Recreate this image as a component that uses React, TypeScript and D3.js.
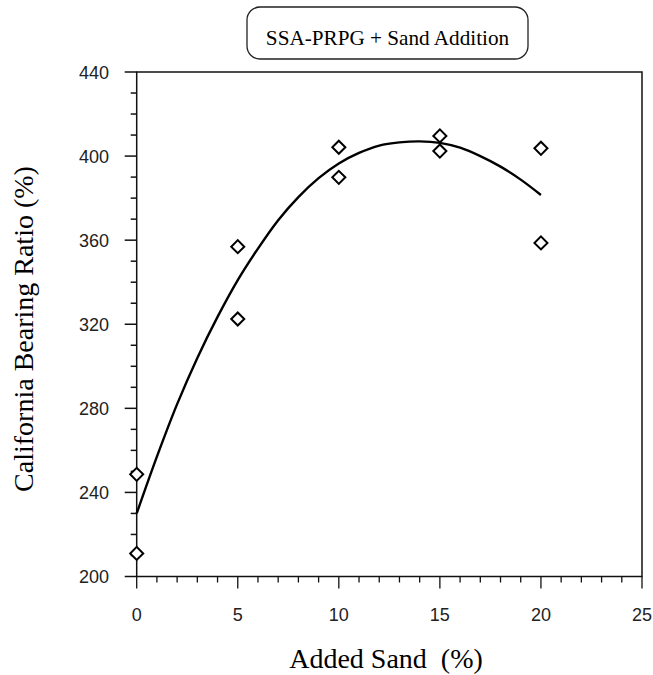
import React, { useEffect, useRef } from 'react'
import * as d3 from 'd3'

// measured points (added sand %, CBR %)
const sandX = [0, 0, 5, 5, 10, 10, 15, 15, 20, 20]
const cbrY = [248.6, 211, 356.9, 322.5, 404.2, 389.9, 409.6, 402.4, 403.7, 358.7]

// trend line
const fitX = [0, 1, 2, 3, 4, 5, 6, 7, 8, 9, 10, 11, 12, 13, 14, 15, 16, 17, 18, 19, 20]
const fitY = [230, 257, 282, 304, 323.5, 341, 356, 369.5, 380.5, 389.5, 396.5, 401.5, 405, 406.5, 407, 406.3, 404, 400, 395, 388.8, 381.5]

const xTicks = [0, 5, 10, 15, 20, 25]
const yTicks = [200, 240, 280, 320, 360, 400, 440]

const title = 'SSA-PRPG + Sand Addition'
const xTitle = 'Added Sand\u00a0\u00a0(%)'
const yTitle = 'California Bearing Ratio (%)'

export default function App() {
    const svgRef = useRef(null)

    useEffect(() => {
        const svg = d3.select(svgRef.current)
        svg.selectAll('*').remove()

        const left = 136.7, right = 642, top = 72, bottom = 576.5
        const x = d3.scaleLinear().domain([0, 25]).range([left, right])
        const y = d3.scaleLinear().domain([200, 440]).range([bottom, top])

        const sans = 'Liberation Sans, Arial, sans-serif'
        const serif = 'Liberation Serif, Times New Roman, serif'

        // title box
        svg.append('rect')
            .attr('x', 247).attr('y', 7)
            .attr('width', 281).attr('height', 52)
            .attr('rx', 13)
            .attr('fill', 'white')
            .attr('stroke', '#222')
            .attr('stroke-width', 1.3)
        svg.append('text')
            .attr('x', 387.5).attr('y', 45)
            .attr('text-anchor', 'middle')
            .style('font-family', serif)
            .style('font-size', '21.2px')
            .text(title)

        // frame
        svg.append('rect')
            .attr('x', left).attr('y', top)
            .attr('width', right - left).attr('height', bottom - top)
            .attr('fill', 'none')
            .attr('stroke', '#111')
            .attr('stroke-width', 1.5)

        // y axis ticks
        const yAxis = svg.append('g').attr('stroke', '#111').attr('stroke-width', 1.5)
        d3.range(200, 441, 10).forEach(v => {
            const major = v % 40 === 0
            yAxis.append('line')
                .attr('x1', left - (major ? 12 : 6)).attr('x2', left)
                .attr('y1', y(v)).attr('y2', y(v))
        })
        svg.append('g').selectAll('text')
            .data(yTicks).enter().append('text')
            .attr('x', 109).attr('y', d => y(d) + 6.5)
            .attr('text-anchor', 'end')
            .style('font-family', sans)
            .style('font-size', '18px')
            .attr('fill', '#222')
            .text(d => d)

        // x axis ticks
        const xAxis = svg.append('g').attr('stroke', '#111').attr('stroke-width', 1.3)
        d3.range(0, 26, 1).forEach(v => {
            const major = v % 5 === 0
            xAxis.append('line')
                .attr('x1', x(v)).attr('x2', x(v))
                .attr('y1', bottom).attr('y2', bottom + (major ? 12 : 6))
        })
        svg.append('g').selectAll('text')
            .data(xTicks).enter().append('text')
            .attr('x', d => x(d)).attr('y', 621)
            .attr('text-anchor', 'middle')
            .style('font-family', sans)
            .style('font-size', '18px')
            .attr('fill', '#222')
            .text(d => d)

        // axis titles
        svg.append('text')
            .attr('x', 386).attr('y', 668)
            .attr('text-anchor', 'middle')
            .style('font-family', serif)
            .style('font-size', '28px')
            .text(xTitle)
        svg.append('text')
            .attr('transform', 'translate(33, 329) rotate(-90)')
            .attr('text-anchor', 'middle')
            .style('font-family', serif)
            .style('font-size', '28px')
            .text(yTitle)

        // fitted curve
        const line = d3.line()
            .x((d, i) => x(fitX[i]))
            .y((d, i) => y(fitY[i]))
            .curve(d3.curveCatmullRom)
        svg.append('path')
            .attr('d', line(fitX))
            .attr('fill', 'none')
            .attr('stroke', '#000')
            .attr('stroke-width', 2.4)

        // data markers
        const diamond = d3.symbol().type(d3.symbolSquare).size(85)
        svg.append('g').selectAll('path')
            .data(sandX).enter().append('path')
            .attr('transform', (d, i) => `translate(${x(d)}, ${y(cbrY[i])}) rotate(45)`)
            .attr('d', diamond())
            .attr('fill', 'white')
            .attr('stroke', '#000')
            .attr('stroke-width', 2)
    }, [])

    return (
        <svg ref={svgRef} width={653} height={675}
            style={{ position: 'absolute', left: 0, top: 0, background: 'white' }}>
        </svg>
    )
}
